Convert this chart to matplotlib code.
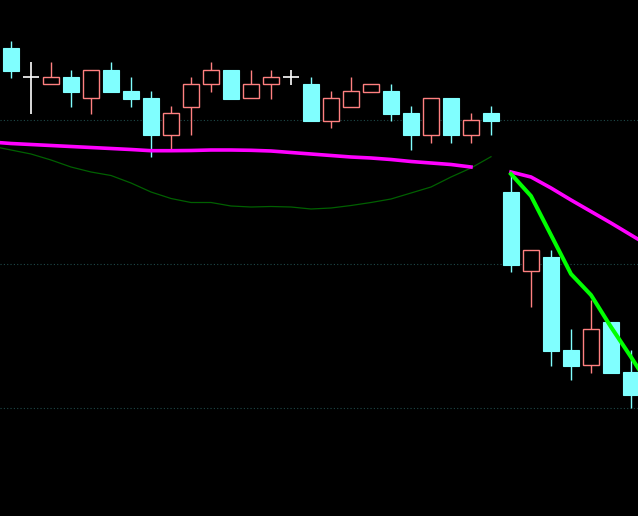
import numpy as np
import matplotlib
matplotlib.use("Agg")
import matplotlib.pyplot as plt

# candle data, index 0..31
opens = [5.52, 5.23, 5.16, 5.23, 5.02, 5.30, 5.09, 5.02, 4.65, 4.93, 5.16, 5.30, 5.02, 5.16, 5.23, 5.16,
         4.79, 4.93, 5.08, 5.09, 4.87, 4.65, 5.02, 4.65, 4.87, 4.08, 3.29, 3.43, 2.50, 2.35, 2.78, 2.28]
highs = [5.59, 5.38, 5.38, 5.30, 5.30, 5.38, 5.23, 5.09, 4.94, 5.23, 5.38, 5.30, 5.30, 5.30, 5.30, 5.23,
         5.09, 5.23, 5.16, 5.16, 4.94, 5.02, 5.02, 4.87, 4.94, 4.25, 3.50, 3.50, 2.71, 3.00, 2.78, 2.50]
lows = [5.22, 4.86, 5.16, 4.93, 4.86, 5.08, 4.93, 4.43, 4.51, 4.65, 5.08, 5.01, 5.02, 5.01, 5.15, 4.79,
        4.72, 4.93, 5.08, 4.79, 4.50, 4.57, 4.57, 4.57, 4.65, 3.28, 2.93, 2.34, 2.20, 2.27, 2.27, 1.92]
closes = [5.29, 5.23, 5.23, 5.08, 5.30, 5.08, 5.01, 4.65, 4.87, 5.16, 5.30, 5.01, 5.16, 5.23, 5.23, 4.79,
          5.02, 5.09, 5.16, 4.86, 4.65, 5.02, 4.65, 4.80, 4.79, 3.35, 3.50, 2.49, 2.34, 2.71, 2.27, 2.05]

# moving averages (first point sits just left of the view)
ma_left_x = list(range(-1, 24))
ma_left = [4.58, 4.565, 4.555, 4.545, 4.535, 4.525, 4.515, 4.505, 4.493, 4.493, 4.495, 4.50, 4.50,
           4.497, 4.49, 4.475, 4.46, 4.445, 4.43, 4.42, 4.405, 4.385, 4.37, 4.355, 4.33]
ma_right_x = list(range(25, 33))
ma_right = [4.28, 4.23, 4.12, 4.00, 3.885, 3.77, 3.65, 3.53]
fast_x = list(range(25, 33))
fast = [4.26, 4.04, 3.65, 3.26, 3.05, 2.73, 2.43, 2.12]
slow_x = list(range(-1, 25))
slow = [4.54, 4.50, 4.46, 4.40, 4.33, 4.28, 4.245, 4.17, 4.08, 4.015, 3.975, 3.975, 3.94, 3.93, 3.935,
        3.93, 3.91, 3.92, 3.945, 3.975, 4.01, 4.07, 4.13, 4.23, 4.32, 4.433]
grid_levels = [4.80, 3.36, 1.92]

cyan = '#80ffff'
red = '#ff8080'

fig = plt.figure(figsize=(6.38, 5.16), dpi=100, facecolor='black')
ax = fig.add_axes([0, 0, 1, 1])
ax.set_facecolor('black')
ax.set_xlim(-0.55, 31.35)
ax.set_ylim(0.84, 6.0)
ax.axis('off')

for lvl in grid_levels:
    ax.axhline(lvl, color='#1e4a4a', lw=0.8, ls=(0, (1, 2)), zorder=1)

w = 0.8
for i in range(len(opens)):
    o, h, l, c = opens[i], highs[i], lows[i], closes[i]
    if o == c:
        ax.vlines(i, l, h, color='white', lw=1.2, zorder=2)
        ax.hlines(o, i - w / 2, i + w / 2, color='white', lw=1.2, zorder=2)
    elif c > o:
        ax.vlines(i, l, h, color=red, lw=1.0, zorder=2)
        ax.bar(i, c - o, bottom=o, width=w, facecolor='black', edgecolor=red, lw=1.0, zorder=3)
    else:
        ax.vlines(i, l, h, color=cyan, lw=1.0, zorder=2)
        ax.bar(i, o - c, bottom=c, width=w, facecolor=cyan, edgecolor=cyan, lw=0.8, zorder=3)

ax.plot(slow_x, slow, color='#006000', lw=0.9, zorder=4)
ax.plot(ma_left_x, ma_left, color='#ff00ff', lw=2.6, zorder=5)
ax.plot(ma_right_x, ma_right, color='#ff00ff', lw=2.6, zorder=5)
ax.plot(fast_x, fast, color='#00ff00', lw=2.9, zorder=6)

fig.savefig('out.png', dpi=100, facecolor='black')
